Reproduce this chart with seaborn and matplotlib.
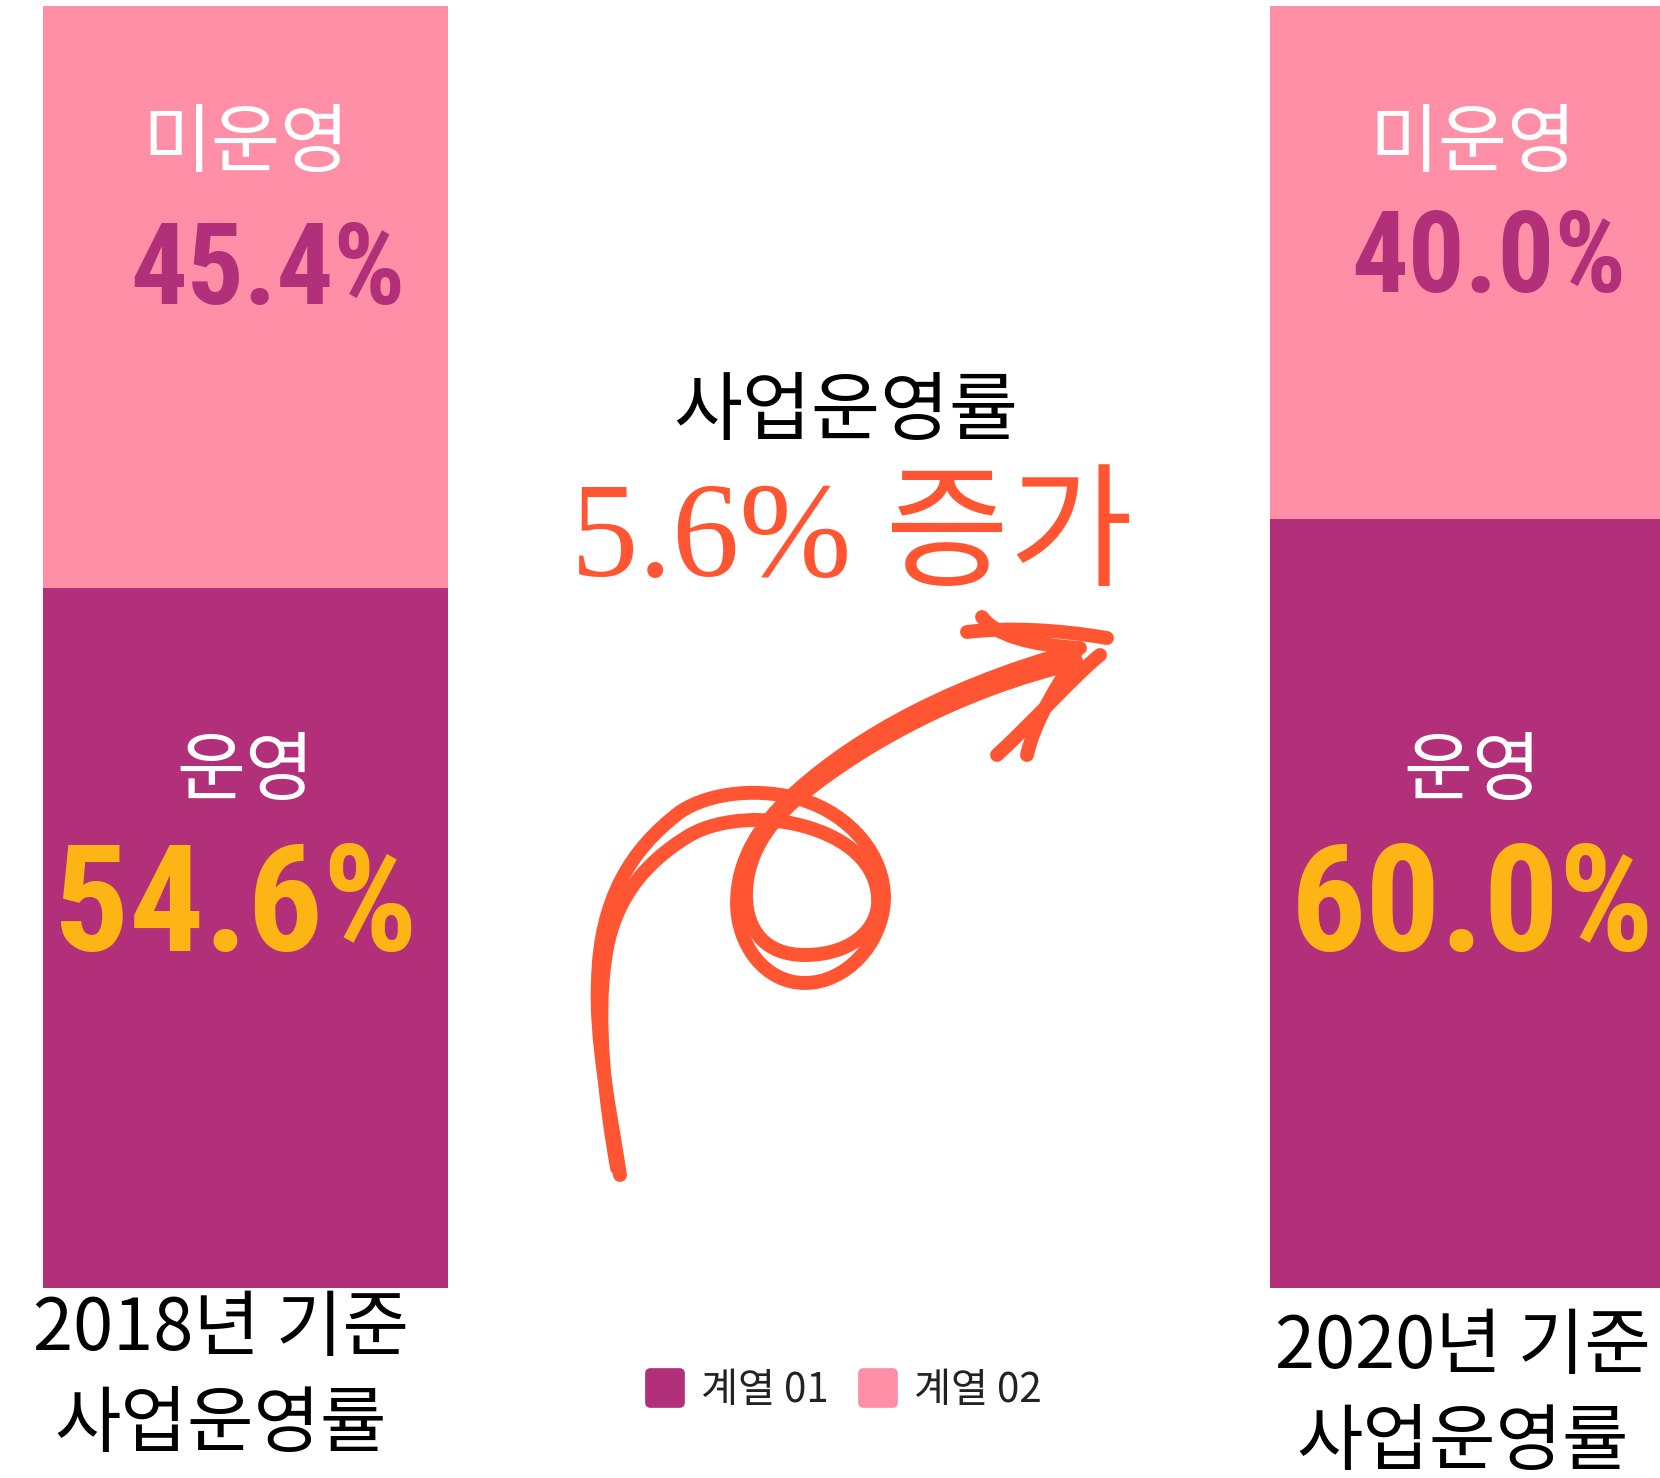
import matplotlib
matplotlib.use("Agg")
import matplotlib.pyplot as plt
from matplotlib.path import Path
from matplotlib.patches import PathPatch
from matplotlib.lines import Line2D
from matplotlib.markers import MarkerStyle
from matplotlib.transforms import Affine2D
import seaborn as sns
import pandas as pd

# 데이터
years = ["2018년", "2020년"]
operating = [54.6, 60.0]        # 계열 01 - 운영
not_operating = [45.4, 40.0]    # 계열 02 - 미운영
series_labels = ["계열 01", "계열 02"]
year_captions = ["2018년 기준\n사업운영률", "2020년 기준\n사업운영률"]
change_text = "5.6% 증가"

PURPLE = "#B2307A"
PINK = "#FF8FA7"
YELLOW = "#FDB515"
ORANGE = "#FF5533"

sns.set_style("white")
plt.rcParams["font.family"] = ["Noto Sans CJK KR", "DejaVu Sans"]

df = pd.DataFrame({"year": years, "op": operating, "nop": not_operating})
df["total"] = df["op"] + df["nop"]

fig = plt.figure(figsize=(16.6, 14.78), dpi=100)
ax = fig.add_axes([0, 0, 1, 1])

# 누적 막대: 전체(미운영 포함) 뒤에 운영 비율
sns.barplot(data=df, x="year", y="total", color=PINK, saturation=1, width=0.33,
            linewidth=0, ax=ax)
sns.barplot(data=df, x="year", y="op", color=PURPLE, saturation=1, width=0.33,
            linewidth=0, ax=ax)

ax.set_xlim(-0.2001, 1.1528)
ax.set_ylim(-14.82, 100.47)
ax.axis("off")

pct_font = ["Roboto Condensed", "Roboto", "DejaVu Sans"]
top_dx = [0.018, 0.013]
top_y = [79.2, 80.1]
bot_dx = [-0.008, 0.0]
for i in range(len(years)):
    ax.text(i, 89.2, "미운영", color="white", fontsize=54, ha="center", va="center")
    ax.text(i + top_dx[i], top_y[i], f"{not_operating[i]:.1f}%", color=PURPLE, fontsize=81,
            fontweight="bold", family=pct_font, ha="center", va="center")
    ax.text(i, 40.2, "운영", color="white", fontsize=54, ha="center", va="center")
    ax.text(i + bot_dx[i], 29.5, f"{operating[i]:.1f}%", color=YELLOW, fontsize=107,
            fontweight="bold", family=pct_font, ha="center", va="center")

ax.text(-0.02, -7.0, year_captions[0], fontsize=52, ha="center", va="center",
        linespacing=1.4, color="black")
ax.text(0.992, -8.4, year_captions[1], fontsize=52, ha="center", va="center",
        linespacing=1.4, color="black")

ax.text(0.489, 68.3, "사업운영률", fontsize=54, ha="center", va="center", color="black")
ax.text(0.494, 58.1, change_text, fontsize=97, ha="center", va="center", color=ORANGE,
        family=["Liberation Serif", "Noto Sans CJK KR"])

# 손그림 화살표 (원본 픽셀 좌표 1660x1478, y 아래로)
px = Affine2D().scale(1 / 1660, -1 / 1478).translate(0, 1) + fig.transFigure


def stroke(points):
    codes = [Path.MOVETO] + [Path.CURVE4] * (len(points) - 1)
    p = PathPatch(Path(points, codes), facecolor="none", edgecolor=ORANGE, lw=10,
                  capstyle="round", joinstyle="round", transform=px)
    fig.add_artist(p)


stroke([(620, 1175),
        (610, 1110), (595, 1040), (598, 980),
        (600, 900), (630, 850), (680, 812),
        (710, 792), (760, 787), (803, 800),
        (850, 815), (885, 855), (884, 900),
        (882, 945), (845, 983), (805, 983),
        (765, 983), (737, 945), (737, 903),
        (737, 860), (760, 825), (790, 797),
        (840, 750), (930, 690), (1077, 650)])
stroke([(617, 1168),
        (605, 1100), (596, 1020), (605, 960),
        (612, 905), (640, 865), (690, 835),
        (720, 818), (770, 815), (810, 828),
        (855, 842), (880, 870), (878, 905),
        (875, 935), (845, 955), (805, 955),
        (765, 955), (746, 930), (746, 895),
        (746, 850), (775, 815), (808, 790),
        (865, 745), (960, 690), (1077, 663)])
stroke([(967, 632), (1010, 627), (1060, 630), (1107, 638)])
stroke([(982, 617), (995, 635), (1030, 645), (1080, 648)])
stroke([(1100, 655), (1075, 675), (1040, 715), (997, 755)])
stroke([(1075, 657), (1055, 690), (1035, 720), (1027, 755)])

# 범례
mk = MarkerStyle("s", joinstyle="round")
handles = [Line2D([], [], ls="none", marker=mk, markersize=21, markeredgewidth=7,
                  color=c) for c in (PURPLE, PINK)]
fig.legend(handles, series_labels, loc="center", bbox_to_anchor=(0.508, 0.0589),
           ncol=2, frameon=False, fontsize=29, handlelength=1.0, handletextpad=0.4,
           columnspacing=0.7, labelcolor="#222222")

fig.savefig("out.png", dpi=100)
